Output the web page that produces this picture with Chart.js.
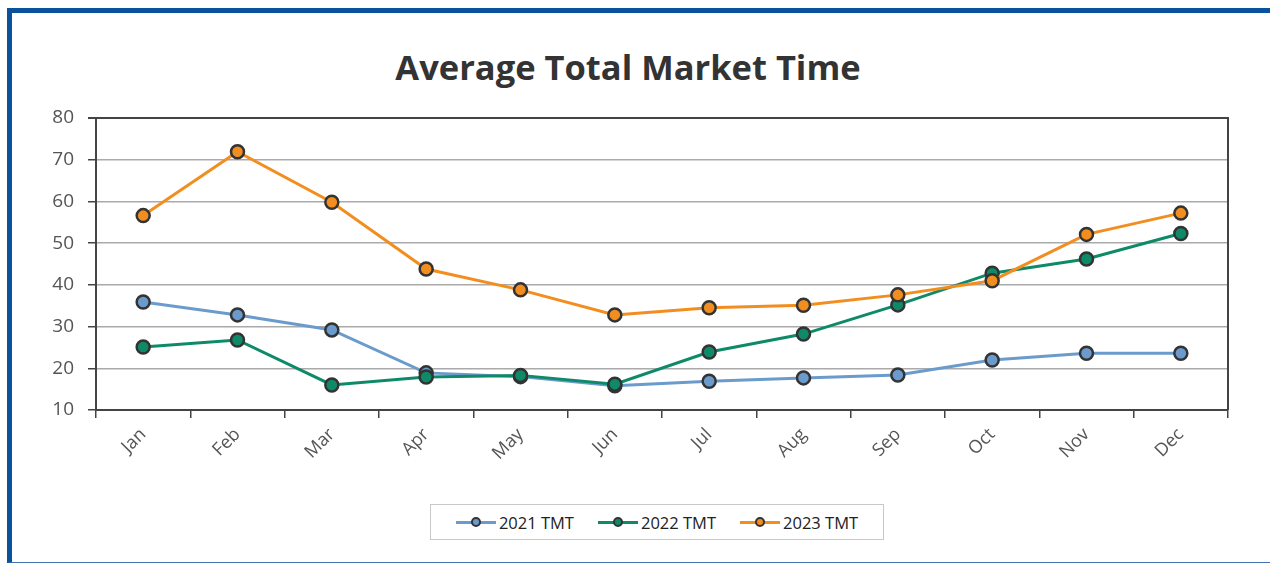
<!DOCTYPE html>
<html>
<head>
<meta charset="utf-8">
<script src="https://cdn.jsdelivr.net/npm/chart.js@4"></script>
<style>
  html, body { margin: 0; padding: 0; width: 1270px; height: 564px; overflow: hidden; background: #fff; font-family: "Open Sans", sans-serif; }
  #frame { position: absolute; left: 7px; top: 8px; width: 1263px; height: 555px; border-top: 5px solid #0a529c; border-left: 5px solid #0a529c; border-bottom: 1px solid #3f74ad; box-sizing: border-box; }
  #title { position: absolute; left: 0; width: 1256px; top: 43px; text-align: center; font-family: "Open Sans", sans-serif; font-weight: 700; font-size: 34.5px; color: #333; line-height: 48px; }
  #wrap { position: absolute; left: 0; top: 0; width: 1270px; height: 564px; }
  #legend { position: absolute; left: 430px; top: 504px; width: 454px; height: 36px; box-sizing: border-box; border: 1px solid #c8c8c8; display: flex; align-items: center; justify-content: center; gap: 24px; font-family: "Open Sans", sans-serif; font-size: 16.5px; color: #222; background: #fff; }
  .item { display: flex; align-items: center; }
  .sym { position: relative; width: 40px; height: 14px; margin-right: 3px; }
  .sym .ln { position: absolute; left: 0; right: 0; top: 5.5px; height: 3px; }
  .sym .dot { position: absolute; left: 15px; top: 2px; width: 6px; height: 6px; border: 2px solid #333; border-radius: 50%; }
</style>
</head>
<body>
<div id="frame"></div>
<div id="title">Average Total Market Time</div>
<div id="wrap"><canvas id="c" width="1270" height="564"></canvas></div>
<div id="legend"></div>
<script>
const months = ["Jan","Feb","Mar","Apr","May","Jun","Jul","Aug","Sep","Oct","Nov","Dec"];
const seriesNames = ["2021 TMT","2022 TMT","2023 TMT"];
const tmt2021 = [35.9, 32.8, 29.2, 18.9, 18.0, 15.8, 16.9, 17.7, 18.4, 22.0, 23.6, 23.6];
const tmt2022 = [25.1, 26.8, 16.0, 17.9, 18.3, 16.2, 23.9, 28.2, 35.2, 42.8, 46.2, 52.3];
const tmt2023 = [56.6, 71.9, 59.8, 43.8, 38.8, 32.8, 34.5, 35.1, 37.6, 41.0, 52.1, 57.2];
const yTicks = [10, 20, 30, 40, 50, 60, 70, 80];
const colors = ["#6b9bcc", "#0f8a68", "#f28e1f"];

const allData = [tmt2021, tmt2022, tmt2023];

const framePlugin = {
  id: 'frameLines',
  beforeDatasetsDraw(chart) {
    const a = chart.chartArea, ctx = chart.ctx;
    ctx.save();
    ctx.strokeStyle = '#444';
    ctx.lineWidth = 2;
    ctx.beginPath();
    ctx.moveTo(a.left - 8, a.top);
    ctx.lineTo(a.right, a.top);
    ctx.lineTo(a.right, a.bottom);
    ctx.stroke();
    ctx.restore();
  }
};

new Chart(document.getElementById('c'), {
  type: 'line',
  data: {
    labels: months,
    datasets: allData.map((d, i) => ({
      label: seriesNames[i],
      data: d,
      borderColor: colors[i],
      backgroundColor: colors[i],
      borderWidth: 3,
      pointRadius: 6.5,
      pointBorderWidth: 2.5,
      pointBorderColor: '#333',
      pointBackgroundColor: colors[i],
      tension: 0,
      order: 3 - i
    }))
  },
  options: {
    responsive: false,
    animation: false,
    events: [],
    layout: { padding: { left: 0, right: 42, top: 118, bottom: 0 } },
    plugins: { legend: { display: false }, title: { display: false }, tooltip: { enabled: false } },
    scales: {
      x: {
        offset: true,
        grid: { offset: true, drawOnChartArea: false, drawTicks: true, tickLength: 8, tickColor: '#444', lineWidth: 1.5 },
        border: { color: '#444', width: 2 },
        ticks: { color: '#555', font: { family: 'Open Sans', size: 18 }, minRotation: 45, maxRotation: 45, padding: 6 },
        afterFit(s) { s.height = 154; }
      },
      y: {
        min: 10, max: 80,
        afterBuildTicks(s) { s.ticks = yTicks.map(v => ({ value: v })); },
        grid: { color: '#aaa', lineWidth: 1.5, tickLength: 8, tickColor: '#444' },
        border: { color: '#444', width: 2 },
        ticks: { color: '#555', font: { family: 'Open Sans', size: 19 }, padding: 14 },
        afterFit(s) { s.width = 96; }
      }
    }
  },
  plugins: [framePlugin]
});

const leg = document.getElementById('legend');
seriesNames.forEach((n, i) => {
  const it = document.createElement('div');
  it.className = 'item';
  it.innerHTML = '<div class="sym"><div class="ln" style="background:' + colors[i] + '"></div><div class="dot" style="background:' + colors[i] + '"></div></div><span>' + n + '</span>';
  leg.appendChild(it);
});
</script>
</body>
</html>
